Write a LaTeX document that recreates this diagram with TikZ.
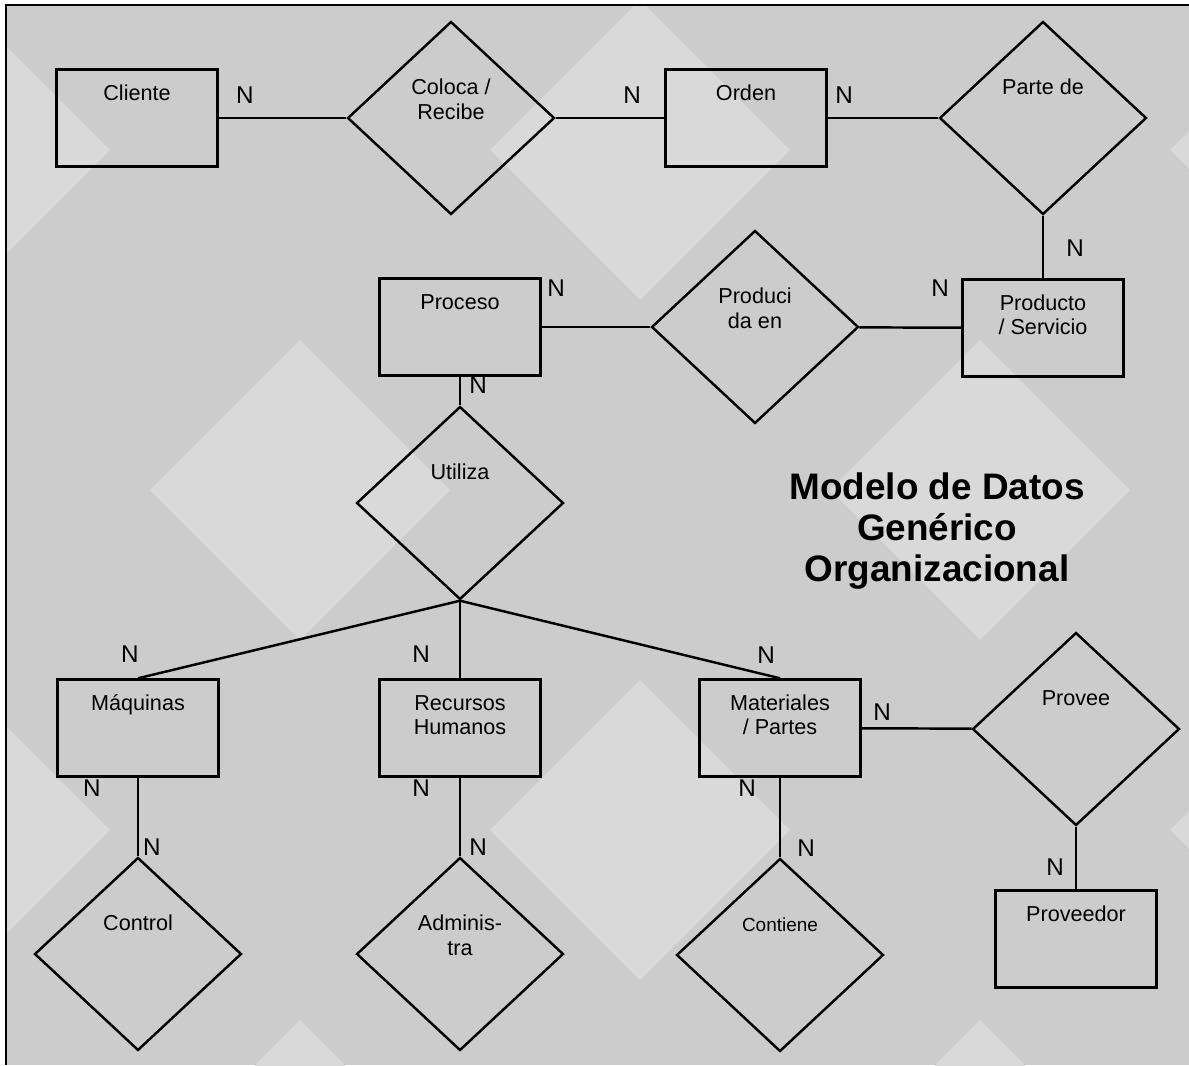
\documentclass[tikz,border=0pt]{standalone}
\usepackage{fontspec}
\setmainfont{Liberation Sans}
\usetikzlibrary{shapes.geometric}

\definecolor{bgbase}{gray}{0.80}
\definecolor{bglight}{gray}{0.85}

% two lines, baseline on the first one
\newcommand{\tline}[2]{\begin{tabular}[t]{@{}c@{}}#1\\#2\end{tabular}}

\begin{document}
\begin{tikzpicture}[x=0.02cm,y=-0.02cm,
  ent/.style={draw,line width=1.4pt,rectangle,inner sep=0pt,minimum width=3.22cm,minimum height=1.94cm,
    text height=0.61cm,text depth=1.33cm,font=\fontsize{12.3}{14.2}\selectfont},
  rel/.style={draw,line width=1.4pt,diamond,inner sep=0pt,minimum width=4.14cm,minimum height=3.86cm,
    text height=0.24cm,text depth=1.18cm,font=\fontsize{12.3}{14.2}\selectfont},
  card/.style={inner sep=0pt,font=\fontsize{13.8}{15}\selectfont},
  link/.style={line width=1.4pt}]
  \useasboundingbox (0,0) rectangle (1189,1065);

  % background
  \fill[white] (0,0) rectangle (1189,1065);
  \fill[bgbase] (6,5) rectangle (1189,1065);
  \begin{scope}
    \clip (6,5) rectangle (1189,1065);
    \foreach \a in {-2,...,2}
      \foreach \b in {-2,...,2}
        \fill[bglight] ({640+340*(\a+\b)-150},{150+340*(\a-\b)}) -- ++(150,-150) -- ++(150,150) -- ++(-150,150) -- cycle;
  \end{scope}
  \draw[line width=1.5pt] (6,1065) -- (6,5) -- (1189,5);

  % entities and relations
  \node[ent] (cliente) at (137,118) {Cliente};
  \node[rel] (coloca) at (451,118) {\tline{Coloca /}{Recibe}};
  \node[ent] (orden) at (746,118) {Orden};
  \node[rel] (parte) at (1043,118) {Parte de};
  \node[ent] (producto) at (1043,328) {\tline{Producto}{/ Servicio}};
  \node[rel] (producida) at (755,327) {\tline{Produci}{da en}};
  \node[ent] (proceso) at (460,327) {Proceso};
  \node[rel] (utiliza) at (460,503) {Utiliza};
  \node[ent] (maquinas) at (138,728) {Máquinas};
  \node[ent] (recursos) at (460,728) {\tline{Recursos}{Humanos}};
  \node[ent] (materiales) at (780,728) {\tline{Materiales}{/ Partes}};
  \node[rel] (provee) at (1076,729) {Provee};
  \node[ent] (proveedor) at (1076,939) {Proveedor};
  \node[rel] (control) at (138,954) {Control};
  \node[rel] (administra) at (460,954) {\tline{Adminis-}{tra}};
  \node[rel,font=\fontsize{10.8}{13}\selectfont] (contiene) at (780,955) {Contiene};

  \node[align=center,font=\fontsize{21}{23.2}\selectfont\bfseries] (titulo) at (937,531)
    {Modelo de Datos\\Genérico\\Organizacional};

  % connectors
  \draw[link] (cliente) -- (coloca);
  \draw[link] (coloca) -- (orden);
  \draw[link] (orden) -- (parte);
  \draw[link] (parte.south) -- (producto.north);
  \draw[link] (proceso) -- (producida);
  \draw[link] (producida) -- (producto);
  \draw[link] (proceso.south) -- (utiliza.north);
  \draw[link] (utiliza.south) -- (maquinas.north);
  \draw[link] (utiliza.south) -- (recursos.north);
  \draw[link] (utiliza.south) -- (materiales.north);
  \draw[link] (maquinas.south) -- (control.north);
  \draw[link] (recursos.south) -- (administra.north);
  \draw[link] (materiales.south) -- (contiene.north);
  \draw[link] (materiales) -- (provee);
  \draw[link] (provee.south) -- (proveedor.north);

  % cardinalities
  \node[card] (n1) at (245,95) {N};
  \node[card] (n2) at (632,95) {N};
  \node[card] (n3) at (844,95) {N};
  \node[card] (n4) at (1075,248) {N};
  \node[card] (n5) at (940,288) {N};
  \node[card] (n6) at (556,288) {N};
  \node[card] (n7) at (478,385) {N};
  \node[card] (n8) at (130,654) {N};
  \node[card] (n9) at (421,654) {N};
  \node[card] (n10) at (766,655) {N};
  \node[card] (n11) at (882,712) {N};
  \node[card] (n12) at (1055,867) {N};
  \node[card] (n13) at (92,788) {N};
  \node[card] (n14) at (152,847) {N};
  \node[card] (n15) at (421,788) {N};
  \node[card] (n16) at (478,847) {N};
  \node[card] (n17) at (747,788) {N};
  \node[card] (n18) at (806,848) {N};
\end{tikzpicture}
\end{document}
